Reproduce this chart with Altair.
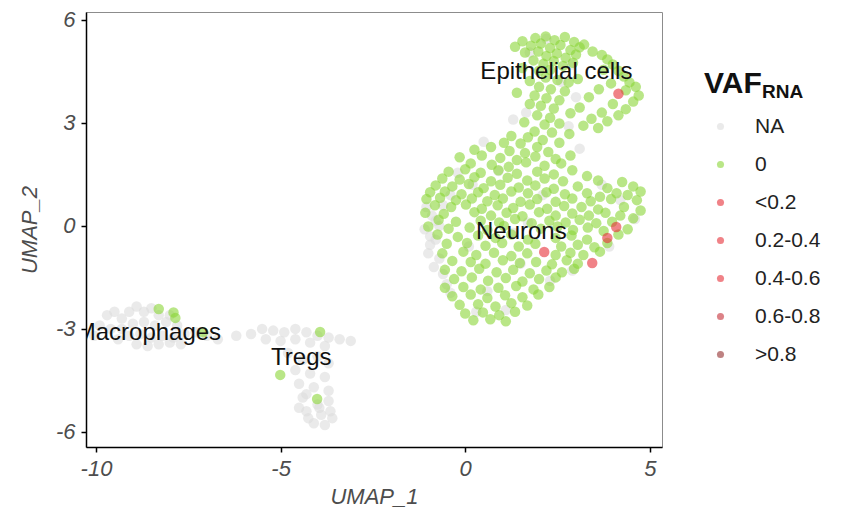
import altair as alt
import pandas as pd

# ---- data (UMAP coordinates) ----
# green (VAF = 0) points: (UMAP_1, UMAP_2)
green_epithelial = [
    (1.55, 5.38), (1.9, 5.47), (2.18, 5.52), (2.42, 5.41), (2.7, 5.5), (2.95, 5.36), (3.22, 5.28),
    (1.35, 5.22), (1.78, 5.25), (2.05, 5.31), (2.3, 5.18), (2.58, 5.27), (2.85, 5.12), (3.1, 5.2),
    (3.45, 5.08), (3.7, 4.98), (1.62, 5.05), (1.98, 5.08), (2.2, 4.95), (2.48, 5.02), (2.72, 4.9),
    (3.0, 4.99), (3.85, 4.85), (4.0, 4.7), (1.85, 4.82), (2.12, 4.72), (2.4, 4.8), (2.65, 4.66),
    (2.92, 4.75), (4.15, 4.52), (4.3, 4.35), (1.55, 4.6), (2.0, 4.52), (2.3, 4.55), (3.75, 4.55),
    (4.45, 4.18), (4.62, 4.05), (2.18, 4.32), (2.5, 4.25), (1.75, 4.22), (2.8, 4.18), (3.05, 4.28),
    (3.95, 4.15), (4.35, 3.95), (4.7, 3.8), (2.0, 4.05), (2.32, 3.98), (2.7, 3.92), (3.62, 3.98),
    (4.55, 3.62), (1.4, 3.88), (1.88, 3.8), (2.2, 3.72), (2.55, 3.66), (3.35, 3.75), (4.0, 3.55),
    (4.35, 3.4), (2.05, 3.5), (2.4, 3.42), (1.75, 3.55), (3.1, 3.45), (3.7, 3.3), (4.15, 3.22),
    (1.95, 3.22), (2.3, 3.15), (2.85, 3.28), (3.42, 3.12), (3.85, 3.05), (1.6, 3.02), (2.15, 2.95),
    (2.55, 2.98), (3.2, 2.92), (3.6, 2.85), (1.88, 2.75), (2.35, 2.72), (2.82, 2.68), (1.25, 2.62),
    (1.7, 2.58), (2.1, 2.5), (2.55, 2.42), (1.05, 2.42), (1.5, 2.4), (1.95, 2.3),
]
green_neurons = [
    (0.25, 2.22), (0.7, 2.3), (1.2, 2.18), (1.62, 2.12), (2.25, 2.15),
    (-0.15, 2.0), (0.45, 2.05), (0.95, 1.98), (1.4, 1.92), (1.9, 2.02), (2.45, 1.95), (2.85, 2.05),
    (0.15, 1.82), (0.72, 1.78), (1.18, 1.72), (1.65, 1.85), (2.15, 1.75), (2.6, 1.82),
    (-0.45, 1.58), (0.0, 1.65), (0.42, 1.55), (0.9, 1.62), (1.4, 1.52), (1.95, 1.58), (2.4, 1.5),
    (2.9, 1.62), (3.3, 1.45),
    (-0.62, 1.38), (-0.15, 1.35), (0.25, 1.42), (0.7, 1.3), (1.15, 1.4), (1.68, 1.32), (2.15, 1.38),
    (2.65, 1.3), (3.6, 1.32), (4.25, 1.28),
    (-0.8, 1.18), (-0.35, 1.15), (0.1, 1.22), (0.5, 1.1), (0.95, 1.2), (1.45, 1.12), (1.9, 1.18),
    (2.4, 1.08), (3.05, 1.15), (3.85, 1.1), (4.55, 1.15), (4.75, 1.0),
    (-0.95, 0.98), (-0.55, 1.0), (-0.1, 0.92), (0.35, 0.98), (0.8, 0.9), (1.25, 1.0), (1.7, 0.95),
    (2.2, 0.98), (2.7, 0.92), (3.3, 0.95), (3.65, 0.85), (4.1, 0.95), (4.4, 0.9),
    (-1.05, 0.78), (-0.68, 0.82), (-0.25, 0.75), (0.18, 0.8), (0.6, 0.72), (1.02, 0.8), (1.5, 0.7),
    (1.95, 0.78), (2.45, 0.7), (2.9, 0.8), (3.4, 0.72), (3.95, 0.78), (4.65, 0.75),
    (-0.82, 0.6), (-0.38, 0.55), (0.02, 0.62), (0.45, 0.5), (0.88, 0.6), (1.3, 0.52), (1.75, 0.62),
    (2.22, 0.5), (2.68, 0.58), (3.15, 0.55), (3.6, 0.48), (4.3, 0.55), (4.75, 0.45),
    (-1.08, 0.38), (-0.58, 0.35), (0.25, 0.4), (0.7, 0.3), (1.12, 0.38), (1.55, 0.28), (2.0, 0.4),
    (2.45, 0.3), (2.9, 0.36), (3.35, 0.3), (3.8, 0.38), (4.2, 0.3), (4.55, 0.22),
    (-0.72, 0.18), (-0.25, 0.12), (0.42, 0.15), (0.92, 0.1), (1.35, 0.2), (1.8, 0.08), (2.28, 0.15),
    (2.72, 0.1), (3.1, 0.18), (3.55, 0.08), (3.98, 0.12),
    (-1.0, -0.02), (-0.45, -0.08), (0.12, -0.05), (0.6, -0.12), (1.05, 0.0), (2.05, -0.08),
    (2.5, -0.02), (2.92, -0.12), (3.32, -0.05), (3.75, -0.15), (4.4, -0.1),
    (-0.75, -0.25), (-0.2, -0.32), (0.35, -0.28), (0.82, -0.35), (1.25, -0.25), (1.7, -0.4),
    (2.45, -0.35), (2.88, -0.28), (3.3, -0.4), (4.15, -0.25),
    (-0.5, -0.52), (0.05, -0.5), (0.55, -0.58), (1.0, -0.5), (1.45, -0.6), (1.9, -0.52),
    (2.6, -0.6), (3.05, -0.55), (3.5, -0.62), (3.85, -0.5),
    (-0.62, -0.8), (-0.05, -0.75), (0.3, -0.85), (0.78, -0.78), (1.25, -0.88), (1.68, -0.8),
    (2.45, -0.85), (2.85, -0.78), (3.2, -0.85), (3.65, -0.75),
    (-0.35, -1.02), (0.15, -1.05), (0.55, -1.1), (1.02, -1.0), (1.48, -1.08), (1.92, -1.05),
    (2.35, -1.12), (2.75, -1.0), (3.05, -1.1),
    (-0.55, -1.28), (-0.1, -1.32), (0.38, -1.25), (0.85, -1.35), (1.3, -1.28), (1.75, -1.38),
    (2.2, -1.3), (2.62, -1.35), (2.95, -1.25),
    (-0.3, -1.55), (0.18, -1.5), (0.62, -1.6), (1.1, -1.52), (1.55, -1.62), (2.0, -1.55), (2.45, -1.5),
    (-0.55, -1.8), (-0.05, -1.78), (0.42, -1.85), (0.9, -1.8), (1.38, -1.75), (1.85, -1.85), (2.28, -1.78),
    (-0.35, -2.05), (0.15, -2.0), (0.6, -2.1), (1.08, -2.02), (1.55, -2.08), (1.98, -2.0),
    (-0.15, -2.3), (0.35, -2.28), (0.82, -2.35), (1.25, -2.25), (1.68, -2.32),
    (0.0, -2.55), (0.48, -2.52), (0.92, -2.6), (1.35, -2.5),
    (0.22, -2.75), (0.68, -2.72), (1.1, -2.78),
]
green_small = [
    (-8.3, -2.42), (-7.9, -2.52), (-7.85, -2.68), (-7.1, -3.1),   # macrophages
    (-3.93, -3.09), (-5.01, -4.34), (-4.01, -5.04),               # tregs
]

# NA (grey) points
grey_main = [
    (2.2, 5.45), (1.75, 5.05), (2.9, 4.7), (2.6, 4.2), (1.3, 3.1), (1.65, 3.3), (3.0, 3.75),
    (2.8, 2.9), (3.1, 2.25), (-0.9, 0.3), (-1.1, -0.1), (-0.8, -0.4), (-1.0, -0.8), (-0.85, -1.2),
    (-0.6, -1.4), (-0.7, 0.0), (-0.4, 0.9), (-0.2, 1.55), (0.1, -0.6), (0.6, -1.9), (1.5, -1.1),
    (1.7, 0.1), (1.3, -0.2), (0.9, 1.6), (2.1, 0.9), (2.9, -1.3), (3.7, 1.2), (4.6, 0.2),
    (4.2, 0.75), (3.9, -0.6), (0.5, 2.45), (-0.5, -1.7), (1.1, -2.45), (-0.6, 0.6), (2.3, -1.6),
    (0.3, -2.5), (-0.95, -0.55), (0.2, 1.2), (-1.05, 0.55), (-0.95, -0.3), (-0.7, -0.95),
    (-0.4, -1.95), (-0.8, 0.15),
]
grey_macrophages = [
    (-9.9, -2.9), (-9.7, -2.6), (-9.5, -2.5), (-9.3, -2.7), (-9.1, -2.5), (-8.9, -2.35),
    (-8.7, -2.5), (-8.5, -2.4), (-8.3, -2.6), (-9.6, -3.0), (-9.3, -3.0), (-9.0, -2.85),
    (-8.7, -2.8), (-8.4, -2.9), (-8.1, -2.8), (-7.8, -2.9), (-9.4, -3.3), (-9.1, -3.2),
    (-8.8, -3.15), (-8.5, -3.25), (-8.2, -3.2), (-7.9, -3.25), (-7.6, -3.15), (-7.3, -3.1),
    (-7.0, -3.2), (-6.7, -3.3), (-8.9, -3.45), (-8.6, -3.5), (-8.3, -3.45), (-8.0, -3.4),
    (-7.7, -3.45), (-10.05, -3.2), (-8.0, -2.6),
]
grey_tregs = [
    (-5.8, -3.15), (-5.5, -3.0), (-5.2, -3.05), (-4.9, -3.1), (-4.6, -3.0), (-4.3, -3.1),
    (-4.0, -3.2), (-3.7, -3.25), (-3.4, -3.3), (-3.1, -3.35), (-5.4, -3.3), (-5.0, -3.35),
    (-4.6, -3.3), (-4.2, -3.4), (-3.8, -3.5), (-6.2, -3.2), (-4.8, -3.7), (-4.4, -3.9),
    (-4.0, -3.8), (-3.7, -4.0), (-4.6, -4.2), (-4.2, -4.3), (-3.8, -4.4), (-4.5, -4.6),
    (-4.1, -4.7), (-3.7, -4.8), (-4.4, -5.0), (-4.0, -5.2), (-3.7, -5.1), (-4.3, -5.4),
    (-3.9, -5.5), (-4.1, -5.75), (-3.8, -5.8), (-4.5, -5.3), (-3.65, -5.4), (-4.25, -5.6),
    (-3.95, -5.3), (-3.6, -5.6), (-4.3, -4.9),
]

# VAF > 0 points
red_x = [4.15, 2.14, 3.85, 4.09, 3.44]
red_y = [3.85, -0.76, -0.35, -0.03, -1.08]
red_cat = ["<0.2", "0.2-0.4", "<0.2", "0.4-0.6", "<0.2"]

categories = ["NA", "0", "<0.2", "0.2-0.4", "0.4-0.6", "0.6-0.8", ">0.8"]
cat_colors = ["#DCDCDC", "#8AD537", "#E62F37", "#E62F37", "#E62F37", "#C52F37", "#932F2F"]

label_text = ["Epithelial cells", "Neurons", "Macrophages", "Tregs"]
label_x = [2.47, 1.52, -8.58, -4.44]
label_y = [4.49, -0.17, -3.12, -3.85]

x_ticks = [-10, -5, 0, 5]
y_ticks = [-6, -3, 0, 3, 6]

# ---- build table ----
grey = grey_main + grey_macrophages + grey_tregs
green = green_epithelial + green_neurons + green_small
pts = pd.concat([
    pd.DataFrame({"UMAP_1": [p[0] for p in grey], "UMAP_2": [p[1] for p in grey], "VAF": "NA"}),
    pd.DataFrame({"UMAP_1": [p[0] for p in green], "UMAP_2": [p[1] for p in green], "VAF": "0"}),
    pd.DataFrame({"UMAP_1": red_x, "UMAP_2": red_y, "VAF": red_cat}),
], ignore_index=True)
pts["order"] = range(len(pts))

labels = pd.DataFrame({"label": label_text, "UMAP_1": label_x, "UMAP_2": label_y})

FONT = "Liberation Sans"
xscale = alt.Scale(domain=[-10.27, 5.33], nice=False, zero=False)
yscale = alt.Scale(domain=[-6.44, 6.23], nice=False, zero=False)

points = alt.Chart(pts).mark_circle(size=110, opacity=0.6).encode(
    x=alt.X("UMAP_1:Q", scale=xscale,
            axis=alt.Axis(values=x_ticks, title="UMAP_1", labelExpr="'' + datum.value")),
    y=alt.Y("UMAP_2:Q", scale=yscale,
            axis=alt.Axis(values=y_ticks, title="UMAP_2", labelExpr="'' + datum.value")),
    color=alt.Color("VAF:N", scale=alt.Scale(domain=categories, range=cat_colors),
                    legend=alt.Legend(title="", orient="none", legendX=624, legendY=104,
                                      symbolSize=50, symbolOpacity=0.6, symbolType="circle",
                                      labelFont=FONT, labelFontSize=21, labelColor="#222222",
                                      labelOffset=24, rowPadding=16, padding=0)),
    order=alt.Order("order:Q"),
)

text = alt.Chart(labels).mark_text(font=FONT, fontSize=24, color="#111111",
                                   baseline="middle", align="center", clip=True).encode(
    x=alt.X("UMAP_1:Q", scale=xscale),
    y=alt.Y("UMAP_2:Q", scale=yscale),
    text="label:N",
)

title_main = alt.Chart(pd.DataFrame({"t": ["VAF"]})).mark_text(
    font=FONT, fontSize=30, fontWeight="bold", color="#111111", align="left", baseline="alphabetic"
).encode(x=alt.value(618), y=alt.value(81), text="t:N")
title_sub = alt.Chart(pd.DataFrame({"t": ["RNA"]})).mark_text(
    font=FONT, fontSize=19, fontWeight="bold", color="#111111", align="left", baseline="alphabetic"
).encode(x=alt.value(676), y=alt.value(86), text="t:N")

chart = alt.layer(points, text, title_main, title_sub).properties(
    width=576, height=435,
    padding={"left": 78, "top": 4, "right": 188, "bottom": 68},
    autosize=alt.AutoSizeParams(type="none"),
).configure_view(
    stroke="#8c8c8c", strokeWidth=1
).configure_axis(
    grid=False, domainColor="#000000", domainWidth=1.5, tickColor="#000000", tickWidth=1.5,
    tickSize=5, labelFont=FONT, labelFontStyle="italic", labelFontSize=22, labelColor="#4D4D4D",
    labelPadding=6, titleFont=FONT, titleFontStyle="italic", titleFontSize=22,
    titleFontWeight="normal", titleColor="#4D4D4D",
).configure_axisX(titlePadding=7).configure_axisY(titlePadding=14)

chart.save("out.html", embed_options={"renderer": "svg", "actions": False})
